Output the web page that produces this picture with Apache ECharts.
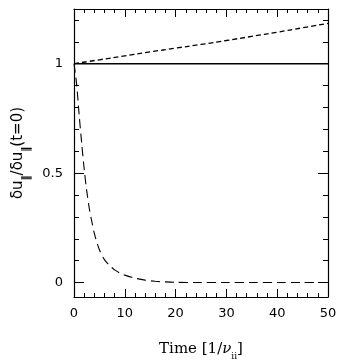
<!DOCTYPE html>
<html>
<head>
<meta charset="utf-8">
<script src="https://cdn.jsdelivr.net/npm/echarts@6/dist/echarts.min.js"></script>
<style>
  html, body { margin: 0; padding: 0; background: #fff; }
  #chart { width: 347px; height: 360px; }
</style>
</head>
<body>
<div id="chart"></div>
<script>
// solid reference line
const flatT = [0, 50];
const flatV = [1, 1];

// short dashes: slowly growing
const growT = [0, 5, 10, 15, 20, 25, 30, 35, 40, 45, 50];
const growV = [1.0, 1.018, 1.036, 1.054, 1.071, 1.088, 1.106, 1.125, 1.144, 1.164, 1.184];

// long dashes: fast decay
const decayT = [0, 0.5, 1, 1.5, 2, 2.5, 3, 3.5, 4, 5, 6, 7, 8, 9, 10, 12, 14, 16, 18, 20, 25, 30, 35, 40, 45, 50];
const decayV = [1.0, 0.91, 0.77, 0.64, 0.52, 0.42, 0.34, 0.28, 0.225, 0.15, 0.105, 0.078, 0.058, 0.044, 0.034, 0.02, 0.011, 0.006, 0.003, 0.001, 0, 0, 0, 0, 0, 0];

const yMajor = [0, 0.5, 1];
const yMinor = [0.1, 0.2, 0.3, 0.4, 0.6, 0.7, 0.8, 0.9, 1.1, 1.2];

const pairs = (xs, ys) => xs.map((x, i) => [x, ys[i]]);

const chart = echarts.init(document.getElementById('chart'), null, { renderer: 'canvas' });

const frame = { show: true, onZero: false, lineStyle: { color: '#000', width: 1.2 } };
const noLine = { show: false, onZero: false };
const tickFont = { color: '#000', fontFamily: 'DejaVu Sans', fontSize: 13 };

const yBase = (pos) => ({
  type: 'value',
  position: pos,
  offset: 0,
  min: -0.066,
  max: 1.25,
  splitLine: { show: false }
});

const option = {
  animation: false,
  backgroundColor: '#fff',
  grid: { left: 74, right: 19, top: 9, bottom: 63, containLabel: false, outerBoundsMode: 'none' },
  xAxis: [
    {
      type: 'value', position: 'bottom', min: 0, max: 50, interval: 10,
      axisLine: frame,
      axisTick: { inside: true, length: 8, lineStyle: { color: '#000' } },
      minorTick: { show: true, splitNumber: 5, length: 4, lineStyle: { color: '#000' } },
      splitLine: { show: false },
      axisLabel: Object.assign({ margin: 10 }, tickFont),
      name: 'Time [1/{nu|ν}{sub|ii}]',
      nameLocation: 'middle',
      nameGap: 45,
      nameTextStyle: {
        color: '#000', fontFamily: 'DejaVu Serif', fontSize: 15,
        rich: {
          nu: { fontFamily: 'DejaVu Serif', fontStyle: 'italic', fontSize: 15, color: '#000' },
          sub: { fontFamily: 'DejaVu Serif', fontSize: 9, color: '#000', verticalAlign: 'bottom', padding: [0, 0, -4, 0] }
        }
      }
    },
    {
      type: 'value', position: 'top', min: 0, max: 50, interval: 10,
      axisLine: frame,
      axisTick: { inside: true, length: 8, lineStyle: { color: '#000' } },
      minorTick: { show: true, splitNumber: 5, length: 4, lineStyle: { color: '#000' } },
      splitLine: { show: false },
      axisLabel: { show: false }
    }
  ],
  yAxis: [
    Object.assign(yBase('left'), {
      axisLine: frame,
      axisTick: { inside: true, length: 10, customValues: yMajor, lineStyle: { color: '#000' } },
      axisLabel: Object.assign({ margin: 11, customValues: yMajor, formatter: v => String(v) }, tickFont),
      name: 'δu{sub|‖}/δu{sub|‖}(t=0)',
      nameLocation: 'middle',
      nameGap: 48,
      nameRotate: 90,
      nameTextStyle: {
        color: '#000', fontFamily: 'DejaVu Sans', fontSize: 15,
        rich: {
          sub: { fontFamily: 'DejaVu Sans', fontSize: 10, fontWeight: 'bold', color: '#000', verticalAlign: 'bottom', padding: [0, 0, -5, 0] }
        }
      }
    }),
    Object.assign(yBase('left'), {
      axisLine: noLine,
      axisTick: { inside: true, length: 5, customValues: yMinor, lineStyle: { color: '#000' } },
      axisLabel: { show: false }
    }),
    Object.assign(yBase('right'), {
      axisLine: frame,
      axisTick: { inside: true, length: 10, customValues: yMajor, lineStyle: { color: '#000' } },
      axisLabel: { show: false }
    }),
    Object.assign(yBase('right'), {
      axisLine: noLine,
      axisTick: { inside: true, length: 5, customValues: yMinor, lineStyle: { color: '#000' } },
      axisLabel: { show: false }
    })
  ],
  series: [
    {
      type: 'line', data: pairs(flatT, flatV), showSymbol: false,
      lineStyle: { color: '#000', width: 1.4 }
    },
    {
      type: 'line', data: pairs(growT, growV), showSymbol: false, smooth: true,
      lineStyle: { color: '#000', width: 1.3, type: [5, 3] }
    },
    {
      type: 'line', data: pairs(decayT, decayV), showSymbol: false, smooth: 0.3,
      lineStyle: { color: '#000', width: 1.1, type: [9, 5] }
    }
  ]
};

chart.setOption(option);
</script>
</body>
</html>
